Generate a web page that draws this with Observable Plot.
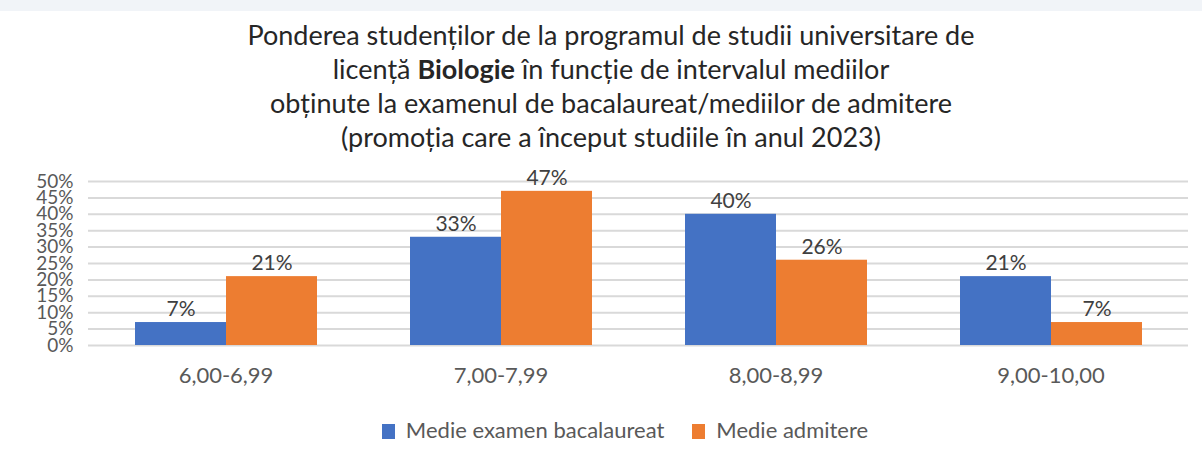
<!DOCTYPE html>
<html>
<head>
<meta charset="utf-8">
<script src="https://cdn.jsdelivr.net/npm/d3@7"></script>
<script src="https://cdn.jsdelivr.net/npm/@observablehq/plot@0.6"></script>
<style>
  html, body { margin: 0; padding: 0; background: #fff; }
  body { width: 1202px; height: 457px; overflow: hidden; font-family: Lato, "Open Sans", sans-serif; position: relative; }
  #strip { position: absolute; left: 0; top: 0; width: 1202px; height: 11px; background: #f1f4f8; }
  #title { position: absolute; left: 0; top: 18px; width: 1222px; text-align: center; font-size: 27px; line-height: 34px; color: #262626; white-space: nowrap; }
  #chart { position: absolute; left: 0; top: 160px; }
  #legend { position: absolute; left: 0; top: 416px; width: 1250px; text-align: center; font-size: 22px; color: #595959; white-space: nowrap; }
  .sw { display: inline-block; width: 13px; height: 15px; vertical-align: -1px; margin-right: 11px; }
  .item { margin: 0 14px; }
</style>
</head>
<body>
<div id="strip"></div>
<div id="title">
  Ponderea studenților de la programul de studii universitare de<br>
  licență <b>Biologie</b> în funcție de intervalul mediilor<br>
  obținute la examenul de bacalaureat/mediilor de admitere<br>
  (promoția care a început studiile în anul 2023)
</div>
<div id="chart"></div>
<div id="legend"></div>
<script>
const categories = ["6,00-6,99", "7,00-7,99", "8,00-8,99", "9,00-10,00"];
const seriesNames = ["Medie examen bacalaureat", "Medie admitere"];
const bacalaureat = [7, 33, 40, 21];
const admitere = [21, 47, 26, 7];
const colors = ["#4472C4", "#ED7D31"];
const yTicks = [0, 5, 10, 15, 20, 25, 30, 35, 40, 45, 50];

const data = [];
categories.forEach((c, i) => {
  data.push({cat: c, series: seriesNames[0], value: bacalaureat[i]});
  data.push({cat: c, series: seriesNames[1], value: admitere[i]});
});

const chart = Plot.plot({
  width: 1202,
  height: 230,
  marginLeft: 88,
  marginRight: 14,
  marginTop: 21,
  marginBottom: 45,
  style: {fontFamily: "Lato, 'Open Sans', sans-serif", background: "transparent", overflow: "visible"},
  fx: {domain: categories, padding: 0, label: null, axis: null},
  x: {domain: seriesNames, paddingInner: 0, paddingOuter: 0.5, axis: null},
  y: {domain: [0, 50], label: null, axis: null},
  color: {domain: seriesNames, range: colors},
  marks: [
    Plot.ruleY(yTicks, {stroke: "#d9d9d9", strokeWidth: 2}),
    Plot.axisY({ticks: yTicks, tickFormat: d => d + "%", tickSize: 0, tickPadding: 15, fontSize: 19, fill: "#595959", label: null}),
    Plot.axisFx({anchor: "bottom", tickSize: 0, tickPadding: 22, fontSize: 22, fill: "#595959", label: null}),
    Plot.barY(data, {fx: "cat", x: "series", y: "value", fill: "series"}),
    Plot.text(data, {fx: "cat", x: "series", y: "value", text: d => d.value + "%", dy: -13, fontSize: 21, fill: "#404040"})
  ]
});
document.getElementById("chart").appendChild(chart);

const legend = document.getElementById("legend");
seriesNames.forEach((s, i) => {
  const span = document.createElement("span");
  span.className = "item";
  span.innerHTML = `<span class="sw" style="background:${colors[i]}"></span>${s}`;
  legend.appendChild(span);
});
</script>
</body>
</html>
